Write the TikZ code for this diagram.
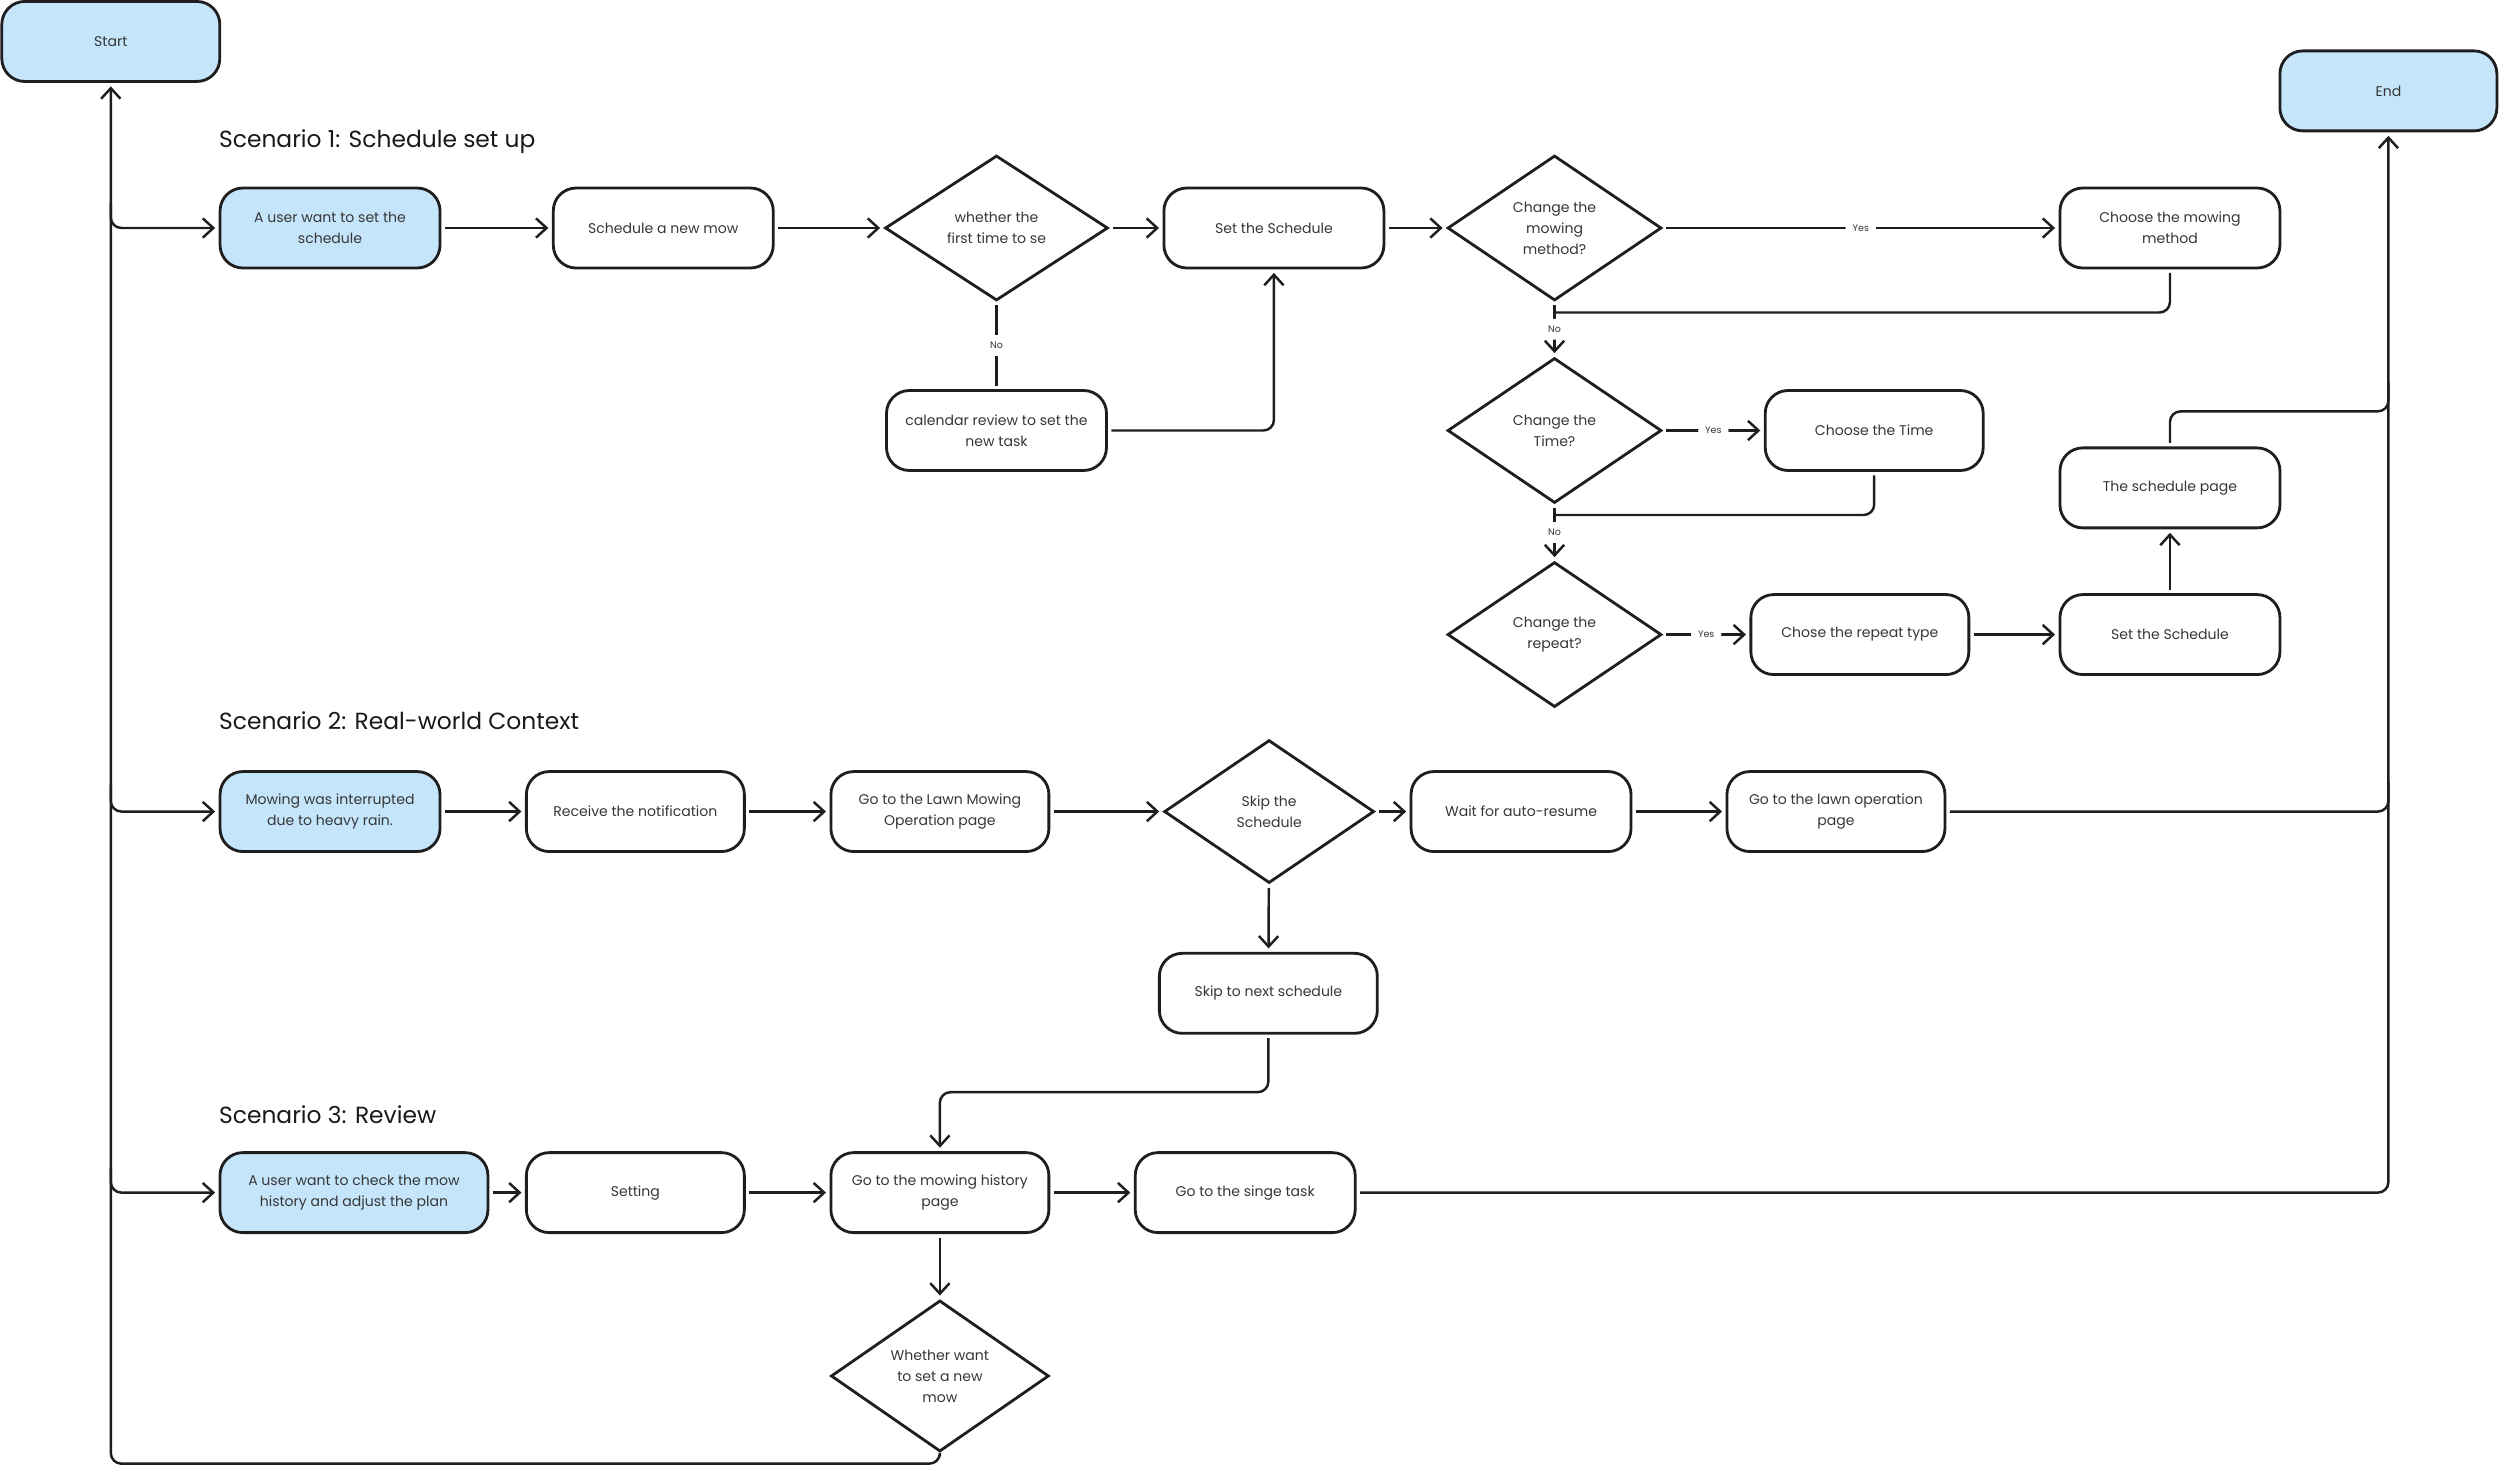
\documentclass[tikz,border=0pt]{standalone}
\usepackage{xcolor}
\usepackage{fontspec}
\setmainfont{Poppins}
\usepackage{tikz}
\usetikzlibrary{shapes,arrows.meta,positioning,calc}
\definecolor{startblue}{RGB}{197, 229, 251}
\definecolor{linedark}{RGB}{30, 30, 30}
\definecolor{textdark}{RGB}{55, 55, 55}

\begin{document}
\begin{tikzpicture}[x=0.015944cm, y=-0.015944cm,
    >={Straight Barb[length=3pt,width=5.5pt]},
    pill/.style={draw=linedark, line width=0.8pt, fill=white, rounded corners=6.5pt,
        minimum width=2.2cm, minimum height=0.8cm, inner sep=1pt, align=center,
        text=textdark, font=\fontsize{4}{6}\selectfont},
    bluepill/.style={pill, fill=startblue},
    decision/.style={diamond, draw=linedark, line width=0.8pt, fill=white, inner sep=0pt,
        minimum width=2.14cm, minimum height=1.45cm, align=center,
        text=textdark, font=\fontsize{4}{6}\selectfont},
    heading/.style={anchor=west, inner sep=0pt, text=black!90, font=\fontsize{6.65}{8}\selectfont},
    lbl/.style={fill=white, inner sep=2pt, text=textdark, font=\fontsize{2.7}{3}\selectfont},
    conn/.style={draw=linedark, line width=0.7pt, shorten <=1pt, shorten >=1pt, rounded corners=3pt}]
    \useasboundingbox (0,0) rectangle (1568,921);

    % start / end
    \node[bluepill, minimum width=2.18cm] (start) at (69.5,26) {Start};
    \node[bluepill, minimum width=2.17cm] (end) at (1498,57) {End};

    % scenario 1
    \node[heading] (title1) at (137,89) {Scenario 1: Schedule set up};
    \node[bluepill] (u1) at (207,143) {A user want to set the\\schedule};
    \node[pill] (nm) at (416,143) {Schedule a new mow};
    \node[decision, minimum width=2.23cm] (fd) at (625,143) {whether the\\first time to se};
    \node[pill] (ss) at (799,143) {Set the Schedule};
    \node[decision] (md) at (975,143) {Change the\\mowing\\method?};
    \node[pill] (cm) at (1361,143) {Choose the mowing\\method};
    \node[pill] (cal) at (625,270) {calendar review to set the\\new task};
    \node[decision] (td) at (975,270) {Change the\\Time?};
    \node[pill, minimum width=2.18cm] (ct) at (1175.5,270) {Choose the Time};
    \node[pill] (sp) at (1361,306) {The schedule page};
    \node[decision] (rd) at (975,398) {Change the\\repeat?};
    \node[pill, minimum width=2.18cm] (rt) at (1166.5,398) {Chose the repeat type};
    \node[pill] (ss2) at (1361,398) {Set the Schedule};

    % scenario 2
    \node[heading] (title2) at (137,452) {Scenario 2: Real-world Context};
    \node[bluepill] (rain) at (207,509) {Mowing was interrupted\\due to heavy rain.};
    \node[pill, minimum width=2.18cm] (notif) at (398.5,509) {Receive the notification};
    \node[pill, minimum width=2.18cm] (lop) at (589.5,509) {Go to the Lawn Mowing\\Operation page};
    \node[decision, minimum width=2.1cm, minimum height=1.43cm] (sk) at (796,509) {Skip the\\Schedule};
    \node[pill] (wait) at (954,509) {Wait for auto-resume};
    \node[pill, minimum width=2.18cm] (lop2) at (1151.5,509) {Go to the lawn operation\\page};
    \node[pill, minimum width=2.18cm] (skn) at (795.5,623) {Skip to next schedule};

    % scenario 3
    \node[heading] (title3) at (137,699) {Scenario 3: Review};
    \node[bluepill, minimum width=2.68cm] (u3) at (222,748) {A user want to check the mow\\history and adjust the plan};
    \node[pill, minimum width=2.18cm] (set) at (398.5,748) {Setting};
    \node[pill, minimum width=2.18cm] (hist) at (589.5,748) {Go to the mowing history\\page};
    \node[pill] (single) at (781,748) {Go to the singe task};
    \node[decision, minimum width=2.18cm, minimum height=1.43cm] (wd) at (589.5,863) {Whether want\\to set a new\\mow};

    % join points
    \coordinate (b1) at (69.5,125);
    \coordinate (b2) at (69.5,490);
    \coordinate (b3) at (69.5,730);
    \coordinate (j1) at (975,196);
    \coordinate (j2) at (975,323);
    \coordinate (k1) at (1498,258);
    \coordinate (k1u) at (1498,240);
    \coordinate (k2u) at (1498,490);
    \coordinate (k3) at (700,685);
    \coordinate (k4) at (300,918);

    % trunk lines
    \draw[conn,->] (wd.south) |- (k4) -| (start.south);
    \draw[conn,->] (b1) |- (u1);
    \draw[conn,->] (b2) |- (rain);
    \draw[conn,->] (b3) |- (u3);
    \draw[conn,->] (single) -| (end.south);

    % scenario 1 flow
    \draw[conn,->] (u1) -- (nm);
    \draw[conn,->] (nm) -- (fd);
    \draw[conn,->] (fd) -- (ss);
    \draw[conn] (fd) -- node[lbl] {No} (cal);
    \draw[conn,->] (cal.east) -| (ss.south);
    \draw[conn,->] (ss) -- (md);
    \draw[conn,->] (md) -- node[lbl] {Yes} (cm);
    \draw[conn, shorten >=0pt] (cm.south) |- (j1);
    \draw[conn,->] (md) -- node[lbl] {No} (td);
    \draw[conn,->] (td) -- node[lbl] {Yes} (ct);
    \draw[conn, shorten >=0pt] (ct.south) |- (j2);
    \draw[conn,->] (td) -- node[lbl] {No} (rd);
    \draw[conn,->] (rd) -- node[lbl] {Yes} (rt);
    \draw[conn,->] (rt) -- (ss2);
    \draw[conn,->] (ss2) -- (sp);
    \draw[conn, shorten >=0pt] (sp.north) |- (k1) -- (k1u);

    % scenario 2 flow
    \draw[conn,->] (rain) -- (notif);
    \draw[conn,->] (notif) -- (lop);
    \draw[conn,->] (lop) -- (sk);
    \draw[conn,->] (sk) -- (wait);
    \draw[conn,->] (wait) -- (lop2);
    \draw[conn, shorten >=0pt] (lop2) -| (k2u);
    \draw[conn,->] (sk) -- (skn);
    \draw[conn,->] (skn.south) |- (k3) -| (hist.north);

    % scenario 3 flow
    \draw[conn,->] (u3) -- (set);
    \draw[conn,->] (set) -- (hist);
    \draw[conn,->] (hist) -- (single);
    \draw[conn,->] (hist) -- (wd);
\end{tikzpicture}
\end{document}
